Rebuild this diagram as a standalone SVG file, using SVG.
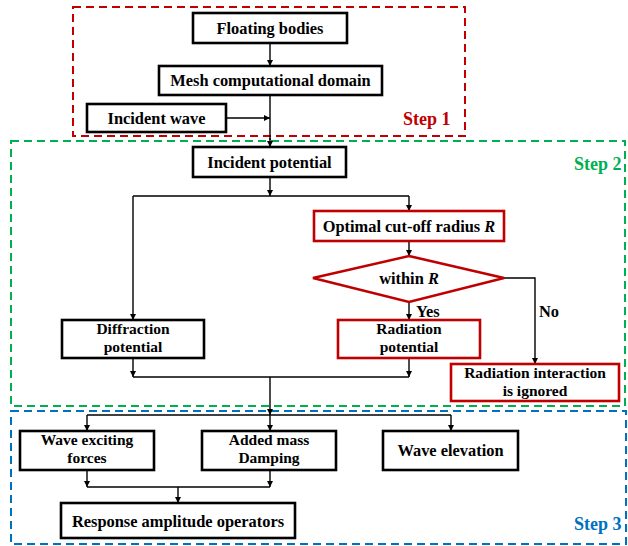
<svg xmlns="http://www.w3.org/2000/svg" width="628" height="546" viewBox="0 0 628 546">
<defs>
<marker id="ah" viewBox="0 0 10 10" refX="10" refY="5" markerWidth="6" markerHeight="6" markerUnits="userSpaceOnUse" orient="auto">
<path d="M0,0 L10,5 L0,10 z" fill="#000"/>
</marker>
<style>
.node{fill:#fff;stroke:#000;stroke-width:2.6}
.rnode{fill:#fff;stroke:#c00000;stroke-width:2.6}
.t{font-family:"Liberation Serif","Times New Roman",serif;font-weight:bold;font-size:16.4px;fill:#000;text-anchor:middle}
.t2{font-size:15.5px}
.c{fill:none;stroke:#000;stroke-width:1.4}
.a{fill:none;stroke:#000;stroke-width:1.4;marker-end:url(#ah)}
.step{font-family:"Liberation Serif","Times New Roman",serif;font-weight:bold;font-size:18px}
.box{fill:none;stroke-width:2;stroke-dasharray:8 5}
</style>
</defs>
<rect width="628" height="546" fill="#fff"/>
<g id="step1">
<rect class="box" x="73" y="7" width="392" height="129" stroke="#c00000"/>
<text class="step" x="403" y="125" fill="#c00000">Step 1</text>
</g>
<g id="step2">
<rect class="box" x="11" y="141" width="614" height="265" stroke="#00b050"/>
<text class="step" x="574" y="170" fill="#00b050">Step 2</text>
</g>
<g id="step3">
<rect class="box" x="11" y="411" width="615" height="133" stroke="#0070c0"/>
<text class="step" x="574" y="530" fill="#0070c0">Step 3</text>
</g>
<g id="connectors">
<line class="a" x1="270" y1="43" x2="270" y2="66"/>
<line class="c" x1="270" y1="95" x2="270" y2="140"/>
<line class="a" x1="270" y1="138" x2="270" y2="147"/>
<line class="a" x1="226" y1="118" x2="270" y2="118"/>
<line class="a" x1="270" y1="177" x2="270" y2="196"/>
<polyline class="a" points="409,196 409,211"/>
<line class="c" x1="133" y1="196" x2="409" y2="196"/>
<line class="a" x1="133" y1="196" x2="133" y2="320"/>
<line class="a" x1="409" y1="241" x2="409" y2="256"/>
<line class="a" x1="409" y1="302" x2="409" y2="320"/>
<polyline class="a" points="504,278 535,278 535,364"/>
<line class="a" x1="133" y1="358" x2="133" y2="377"/>
<line class="a" x1="409" y1="358" x2="409" y2="377"/>
<line class="c" x1="133" y1="377" x2="409" y2="377"/>
<line class="a" x1="270" y1="377" x2="270" y2="415"/>
<line class="c" x1="87" y1="415" x2="451" y2="415"/>
<line class="a" x1="87" y1="415" x2="87" y2="431"/>
<line class="a" x1="270" y1="415" x2="270" y2="431"/>
<line class="a" x1="451" y1="415" x2="451" y2="431"/>
<line class="a" x1="87" y1="470" x2="87" y2="487"/>
<line class="a" x1="270" y1="470" x2="270" y2="487"/>
<line class="c" x1="87" y1="487" x2="270" y2="487"/>
<line class="a" x1="178" y1="487" x2="178" y2="503"/>
<text class="t" x="416" y="317" style="text-anchor:start">Yes</text>
<text class="t" x="539" y="317" style="text-anchor:start">No</text>
</g>
<g id="floating">
<rect class="node" x="193" y="13" width="154" height="30"/>
<text class="t" x="270" y="34">Floating bodies</text>
</g>
<g id="mesh">
<rect class="node" x="159" y="66" width="223" height="29"/>
<text class="t" x="270.5" y="86">Mesh computational domain</text>
</g>
<g id="incwave">
<rect class="node" x="87" y="104" width="139" height="28"/>
<text class="t" x="156.5" y="124">Incident wave</text>
</g>
<g id="incpot">
<rect class="node" x="193" y="147" width="153" height="30"/>
<text class="t" x="269.5" y="168">Incident potential</text>
</g>
<g id="optimal">
<rect class="rnode" x="314" y="211" width="190" height="30"/>
<text class="t" x="409" y="232">Optimal cut-off radius <tspan font-style="italic">R</tspan></text>
</g>
<g id="within">
<polygon class="rnode" points="409,256 504,278 409,302 313,278"/>
<text class="t" x="409" y="284">within <tspan font-style="italic">R</tspan></text>
</g>
<g id="diffraction">
<rect class="node" x="62" y="320" width="142" height="38"/>
<text class="t t2"><tspan x="133" y="334">Diffraction</tspan><tspan x="133" y="352">potential</tspan></text>
</g>
<g id="radiation">
<rect class="rnode" x="338" y="320" width="142" height="38"/>
<text class="t t2"><tspan x="409" y="334">Radiation</tspan><tspan x="409" y="352">potential</tspan></text>
</g>
<g id="ignored">
<rect class="rnode" x="451" y="364" width="168" height="37"/>
<text class="t t2"><tspan x="535" y="378">Radiation interaction</tspan><tspan x="535" y="396">is ignored</tspan></text>
</g>
<g id="exciting">
<rect class="node" x="20" y="431" width="134" height="39"/>
<text class="t t2"><tspan x="87" y="445">Wave exciting</tspan><tspan x="87" y="463">forces</tspan></text>
</g>
<g id="added">
<rect class="node" x="202" y="431" width="134" height="39"/>
<text class="t t2"><tspan x="269" y="445">Added mass</tspan><tspan x="269" y="463">Damping</tspan></text>
</g>
<g id="elevation">
<rect class="node" x="383" y="431" width="135" height="39"/>
<text class="t" x="450.5" y="456">Wave elevation</text>
</g>
<g id="rao">
<rect class="node" x="61" y="503" width="234" height="35"/>
<text class="t" x="178" y="527">Response amplitude operators</text>
</g>
</svg>
